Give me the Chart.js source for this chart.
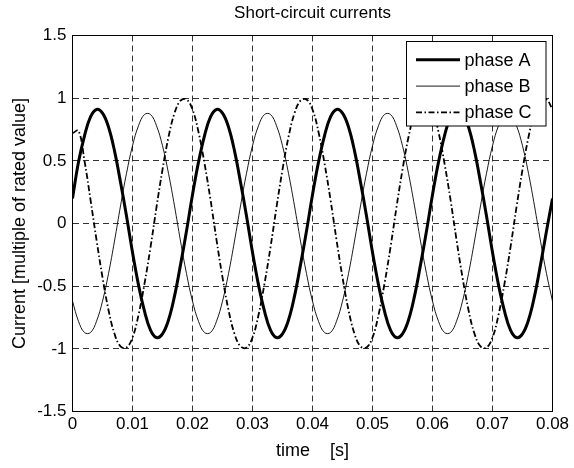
<!DOCTYPE html>
<html>
<head>
<meta charset="utf-8">
<script src="https://cdn.jsdelivr.net/npm/chart.js@4"></script>
<style>
  html, body { margin: 0; padding: 0; background: #fff; }
  canvas { display: block; }
</style>
</head>
<body>
<canvas id="chart" width="574" height="468"></canvas>
<script>
// time axis [s], one sample per millisecond
var timeS = [
  0, 0.001, 0.002, 0.003, 0.004, 0.005, 0.006, 0.007, 0.008, 0.009,
  0.010, 0.011, 0.012, 0.013, 0.014, 0.015, 0.016, 0.017, 0.018, 0.019,
  0.020, 0.021, 0.022, 0.023, 0.024, 0.025, 0.026, 0.027, 0.028, 0.029,
  0.030, 0.031, 0.032, 0.033, 0.034, 0.035, 0.036, 0.037, 0.038, 0.039,
  0.040, 0.041, 0.042, 0.043, 0.044, 0.045, 0.046, 0.047, 0.048, 0.049,
  0.050, 0.051, 0.052, 0.053, 0.054, 0.055, 0.056, 0.057, 0.058, 0.059,
  0.060, 0.061, 0.062, 0.063, 0.064, 0.065, 0.066, 0.067, 0.068, 0.069,
  0.070, 0.071, 0.072, 0.073, 0.074, 0.075, 0.076, 0.077, 0.078, 0.079,
  0.080
];

var phaseA = [
  0.20, 0.49, 0.70, 0.85, 0.91, 0.88, 0.77, 0.58, 0.33, 0.06,
  -0.23, -0.49, -0.70, -0.85, -0.91, -0.88, -0.77, -0.58, -0.33, -0.06,
  0.23, 0.49, 0.70, 0.85, 0.91, 0.88, 0.77, 0.58, 0.33, 0.06,
  -0.23, -0.49, -0.70, -0.85, -0.91, -0.88, -0.77, -0.58, -0.33, -0.06,
  0.23, 0.49, 0.70, 0.85, 0.91, 0.88, 0.77, 0.58, 0.33, 0.06,
  -0.23, -0.49, -0.70, -0.85, -0.91, -0.88, -0.77, -0.58, -0.33, -0.06,
  0.23, 0.49, 0.70, 0.85, 0.91, 0.88, 0.77, 0.58, 0.33, 0.06,
  -0.23, -0.49, -0.70, -0.85, -0.91, -0.88, -0.77, -0.58, -0.33, -0.06,
  0.20
];

var phaseB = [
  -0.62, -0.78, -0.87, -0.87, -0.78, -0.62, -0.40, -0.14, 0.14, 0.40,
  0.62, 0.78, 0.87, 0.87, 0.78, 0.62, 0.40, 0.14, -0.14, -0.40,
  -0.62, -0.78, -0.87, -0.87, -0.78, -0.62, -0.40, -0.14, 0.14, 0.40,
  0.62, 0.78, 0.87, 0.87, 0.78, 0.62, 0.40, 0.14, -0.14, -0.40,
  -0.62, -0.78, -0.87, -0.87, -0.78, -0.62, -0.40, -0.14, 0.14, 0.40,
  0.62, 0.78, 0.87, 0.87, 0.78, 0.62, 0.40, 0.14, -0.14, -0.40,
  -0.62, -0.78, -0.87, -0.87, -0.78, -0.62, -0.40, -0.14, 0.14, 0.40,
  0.62, 0.78, 0.87, 0.87, 0.78, 0.62, 0.40, 0.14, -0.14, -0.40,
  -0.62
];

var phaseC = [
  0.72, 0.74, 0.50, 0.19, -0.13, -0.43, -0.69, -0.88, -0.98, -0.99,
  -0.91, -0.73, -0.48, -0.19, 0.13, 0.43, 0.69, 0.88, 0.98, 0.99,
  0.91, 0.73, 0.48, 0.19, -0.13, -0.43, -0.69, -0.88, -0.98, -0.99,
  -0.91, -0.73, -0.48, -0.19, 0.13, 0.43, 0.69, 0.88, 0.98, 0.99,
  0.91, 0.73, 0.48, 0.19, -0.13, -0.43, -0.69, -0.88, -0.98, -0.99,
  -0.91, -0.73, -0.48, -0.19, 0.13, 0.43, 0.69, 0.88, 0.98, 0.99,
  0.91, 0.73, 0.48, 0.19, -0.13, -0.43, -0.69, -0.88, -0.98, -0.99,
  -0.91, -0.73, -0.48, -0.19, 0.13, 0.43, 0.69, 0.88, 0.98, 0.99,
  0.91
];

var xTicks = [0, 0.01, 0.02, 0.03, 0.04, 0.05, 0.06, 0.07, 0.08];
var xTickLabels = ['0', '0.01', '0.02', '0.03', '0.04', '0.05', '0.06', '0.07', '0.08'];
var yTicks = [-1.5, -1, -0.5, 0, 0.5, 1, 1.5];
var yTickLabels = ['-1.5', '-1', '-0.5', '0', '0.5', '1', '1.5'];

var fontFamily = "'Liberation Sans', Arial, Helvetica, sans-serif";

function points(values) {
  return timeS.map(function (t, i) { return { x: t, y: values[i] }; });
}

// axes box on all four sides, like the original plot
var frame = {
  id: 'frame',
  afterDatasetsDraw: function (chart) {
    var a = chart.chartArea, ctx = chart.ctx;
    ctx.save();
    ctx.strokeStyle = '#000';
    ctx.lineWidth = 1;
    ctx.strokeRect(a.left, a.top, a.right - a.left, a.bottom - a.top);
    ctx.restore();
  }
};

// boxed legend in the upper right corner of the plot
var boxLegend = {
  id: 'boxLegend',
  afterDraw: function (chart) {
    var a = chart.chartArea, ctx = chart.ctx;
    var w = 139.5, h = 84.5;
    var x0 = a.right - 6.5 - w, y0 = a.top + 6;
    ctx.save();
    ctx.fillStyle = '#fff';
    ctx.fillRect(x0, y0, w, h);
    ctx.strokeStyle = '#000';
    ctx.lineWidth = 1;
    ctx.strokeRect(x0, y0, w, h);
    ctx.font = '18px ' + fontFamily;
    ctx.textBaseline = 'middle';
    ctx.textAlign = 'left';
    chart.data.datasets.forEach(function (ds, i) {
      var y = y0 + 18.3 + i * 26.3;
      ctx.beginPath();
      ctx.lineWidth = ds.borderWidth;
      ctx.strokeStyle = ds.borderColor;
      ctx.setLineDash(ds.borderDash || []);
      ctx.moveTo(x0 + 9.5, y);
      ctx.lineTo(x0 + 53.5, y);
      ctx.stroke();
      ctx.setLineDash([]);
      ctx.fillStyle = '#000';
      ctx.fillText(ds.label, x0 + 58, y + 1);
    });
    ctx.restore();
  }
};

var ctx = document.getElementById('chart').getContext('2d');
var myChart = new Chart(ctx, {
  type: 'line',
  data: {
    datasets: [{
      label: 'phase A',
      data: points(phaseA),
      borderColor: '#000',
      borderWidth: 3,
    }, {
      label: 'phase B',
      data: points(phaseB),
      borderColor: '#000',
      borderWidth: 0.9,
    }, {
      label: 'phase C',
      data: points(phaseC),
      borderColor: '#000',
      borderWidth: 1.8,
      borderDash: [6, 2.5, 1.5, 2.5],
    }],
  },
  options: {
    responsive: false,
    animation: false,
    devicePixelRatio: 1,
    layout: { padding: { left: 0, right: 21.5, top: 0, bottom: 0 } },
    elements: {
      point: { radius: 0, hoverRadius: 0 },
      line: { tension: 0.4, fill: false },
    },
    plugins: {
      legend: { display: false },
      tooltip: { enabled: false },
      title: { display: false },
    },
    scales: {
      x: {
        type: 'linear',
        min: 0,
        max: 0.08,
        afterBuildTicks: function (s) { s.ticks = xTicks.map(function (v) { return { value: v }; }); },
        afterFit: function (s) { s.height = 56.5; },
        ticks: {
          callback: function (v, i) { return xTickLabels[i]; },
          color: '#000',
          font: { family: fontFamily, size: 17 },
          padding: 3,
          maxRotation: 0,
          autoSkip: false,
        },
        grid: { color: 'rgba(0,0,0,0.8)', lineWidth: 1, drawTicks: false },
        border: { display: true, color: '#000', width: 1, dash: [6, 4] },
        title: {
          display: true,
          text: 'time    [s]',
          color: '#000',
          font: { family: fontFamily, size: 18 },
          padding: { top: 0, bottom: 6 },
        },
      },
      // top axis only carries the chart title, centred over the plot
      x2: {
        type: 'linear',
        position: 'top',
        min: 0,
        max: 0.08,
        afterFit: function (s) { s.height = 35.5; },
        ticks: { display: false },
        grid: { display: false },
        border: { display: false },
        title: {
          display: true,
          text: 'Short-circuit currents',
          color: '#000',
          font: { family: fontFamily, size: 17 },
          padding: { top: 3, bottom: 0 },
        },
      },
      y: {
        min: -1.5,
        max: 1.5,
        afterBuildTicks: function (s) { s.ticks = yTicks.map(function (v) { return { value: v }; }); },
        afterFit: function (s) { s.width = 72.5; },
        ticks: {
          callback: function (v, i) { return yTickLabels[i]; },
          color: '#000',
          font: { family: fontFamily, size: 17 },
          padding: 6,
        },
        grid: { color: 'rgba(0,0,0,0.8)', lineWidth: 1, drawTicks: false },
        border: { display: true, color: '#000', width: 1, dash: [6, 4] },
        title: {
          display: true,
          text: 'Current [multiple of rated value]',
          color: '#000',
          font: { family: fontFamily, size: 18 },
          padding: { top: 9, bottom: 0 },
        },
      },
    },
  },
  plugins: [frame, boxLegend],
});
</script>
</body>
</html>
